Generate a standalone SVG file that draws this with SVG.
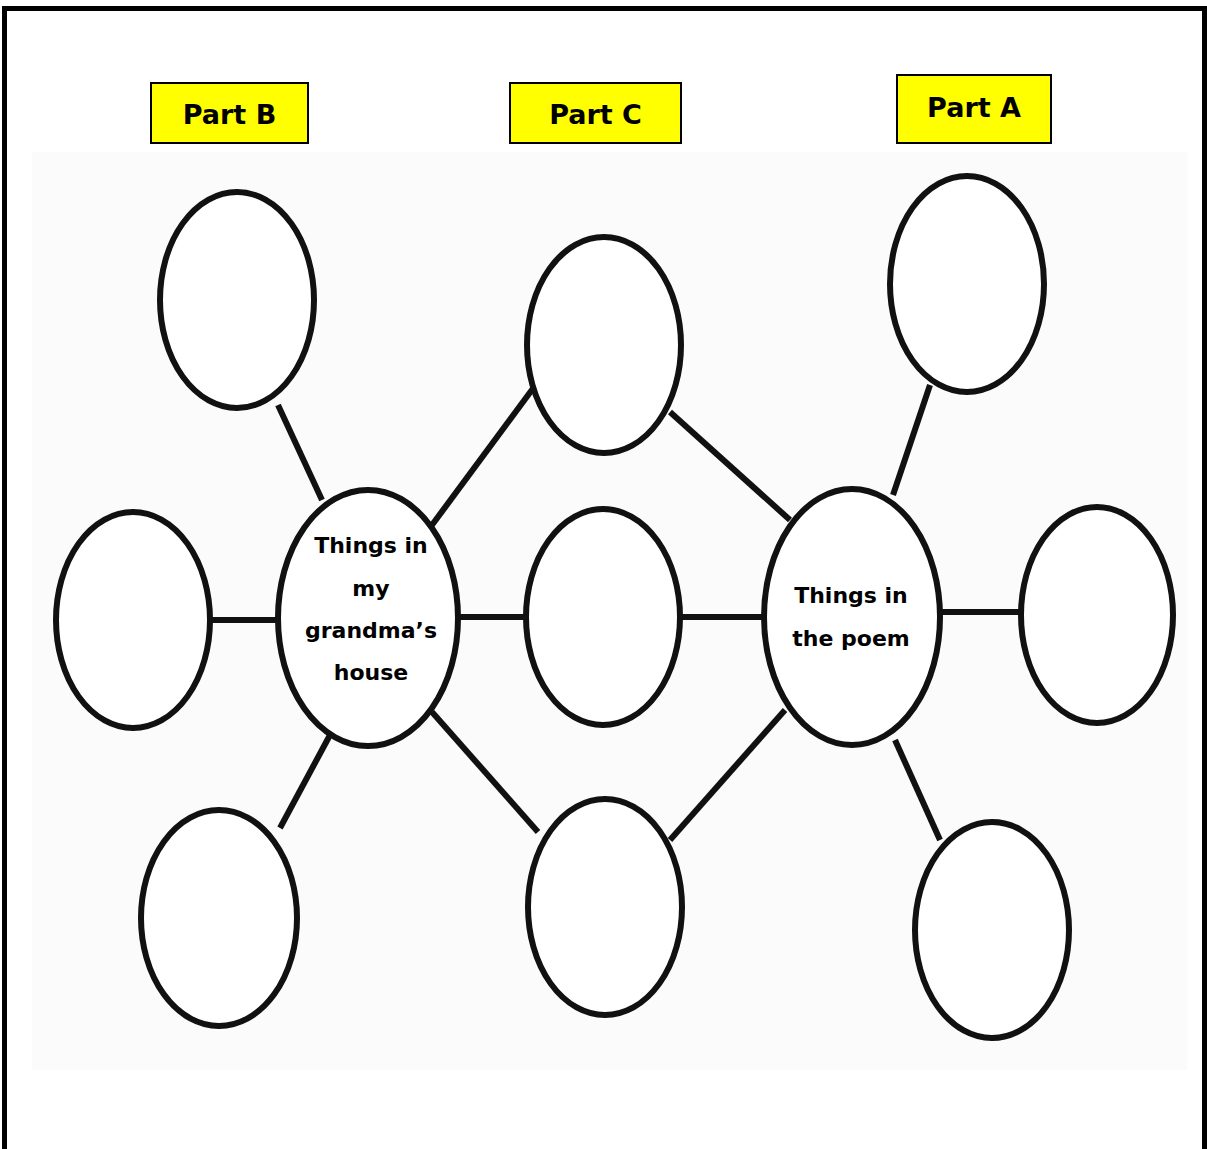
<svg xmlns="http://www.w3.org/2000/svg" width="1207" height="1149" viewBox="0 0 1207 1149">
<style>
.frame{fill:none;stroke:#000;stroke-width:5}
.bg{fill:#fbfbfb}
.node{fill:#fff;stroke:#111;stroke-width:6}
.conn line{stroke:#111;stroke-width:6}
.tag{fill:#ffff00;stroke:#000;stroke-width:2}
.tagt{font-family:"DejaVu Sans",sans-serif;font-weight:bold;font-size:27px;fill:#000;text-anchor:middle}
.lbl{font-family:"DejaVu Sans",sans-serif;font-weight:bold;font-size:22px;fill:#000;text-anchor:middle}
</style>
<rect width="1207" height="1149" fill="#fff"/>
<rect class="bg" x="32" y="152" width="1155" height="918"/>
<rect class="frame" x="4.5" y="8.5" width="1200" height="1160"/>
<g id="tags">
<g id="partB"><rect class="tag" x="151" y="83" width="157" height="60"/><text class="tagt" x="229.5" y="124">Part B</text></g>
<g id="partC"><rect class="tag" x="510" y="83" width="171" height="60"/><text class="tagt" x="595.5" y="124">Part C</text></g>
<g id="partA"><rect class="tag" x="897" y="75" width="154" height="68"/><text class="tagt" x="974" y="117">Part A</text></g>
</g>
<g id="connectors" class="conn">
<line x1="278" y1="405" x2="322" y2="500"/>
<line x1="210" y1="620" x2="280" y2="620"/>
<line x1="280" y1="828" x2="330" y2="735"/>
<line x1="432" y1="525" x2="537" y2="383"/>
<line x1="458" y1="617" x2="526" y2="617"/>
<line x1="432" y1="712" x2="538" y2="832"/>
<line x1="670" y1="412" x2="790" y2="520"/>
<line x1="680" y1="617" x2="765" y2="617"/>
<line x1="670" y1="840" x2="785" y2="710"/>
<line x1="893" y1="495" x2="930" y2="385"/>
<line x1="940" y1="612" x2="1022" y2="612"/>
<line x1="895" y1="740" x2="940" y2="840"/>
</g>
<g id="b-top"><ellipse class="node" cx="237" cy="300" rx="77" ry="108"/></g>
<g id="b-left"><ellipse class="node" cx="133" cy="620" rx="77" ry="108"/></g>
<g id="b-bottom"><ellipse class="node" cx="219" cy="918" rx="78" ry="108"/></g>
<g id="center-left"><ellipse class="node" cx="368" cy="618" rx="90" ry="128"/>
<text class="lbl" x="371" y="553">Things in</text>
<text class="lbl" x="371" y="596">my</text>
<text class="lbl" x="371" y="638">grandma’s</text>
<text class="lbl" x="371" y="680">house</text></g>
<g id="c-top"><ellipse class="node" cx="604" cy="345" rx="77" ry="108"/></g>
<g id="c-mid"><ellipse class="node" cx="603" cy="617" rx="77" ry="108"/></g>
<g id="c-bottom"><ellipse class="node" cx="605" cy="907" rx="77" ry="108"/></g>
<g id="center-right"><ellipse class="node" cx="852" cy="617" rx="88" ry="128"/>
<text class="lbl" x="851" y="603">Things in</text>
<text class="lbl" x="851" y="646">the poem</text></g>
<g id="a-top"><ellipse class="node" cx="967" cy="284" rx="77" ry="108"/></g>
<g id="a-right"><ellipse class="node" cx="1097" cy="615" rx="76" ry="108"/></g>
<g id="a-bottom"><ellipse class="node" cx="992" cy="930" rx="77" ry="108"/></g>
</svg>
